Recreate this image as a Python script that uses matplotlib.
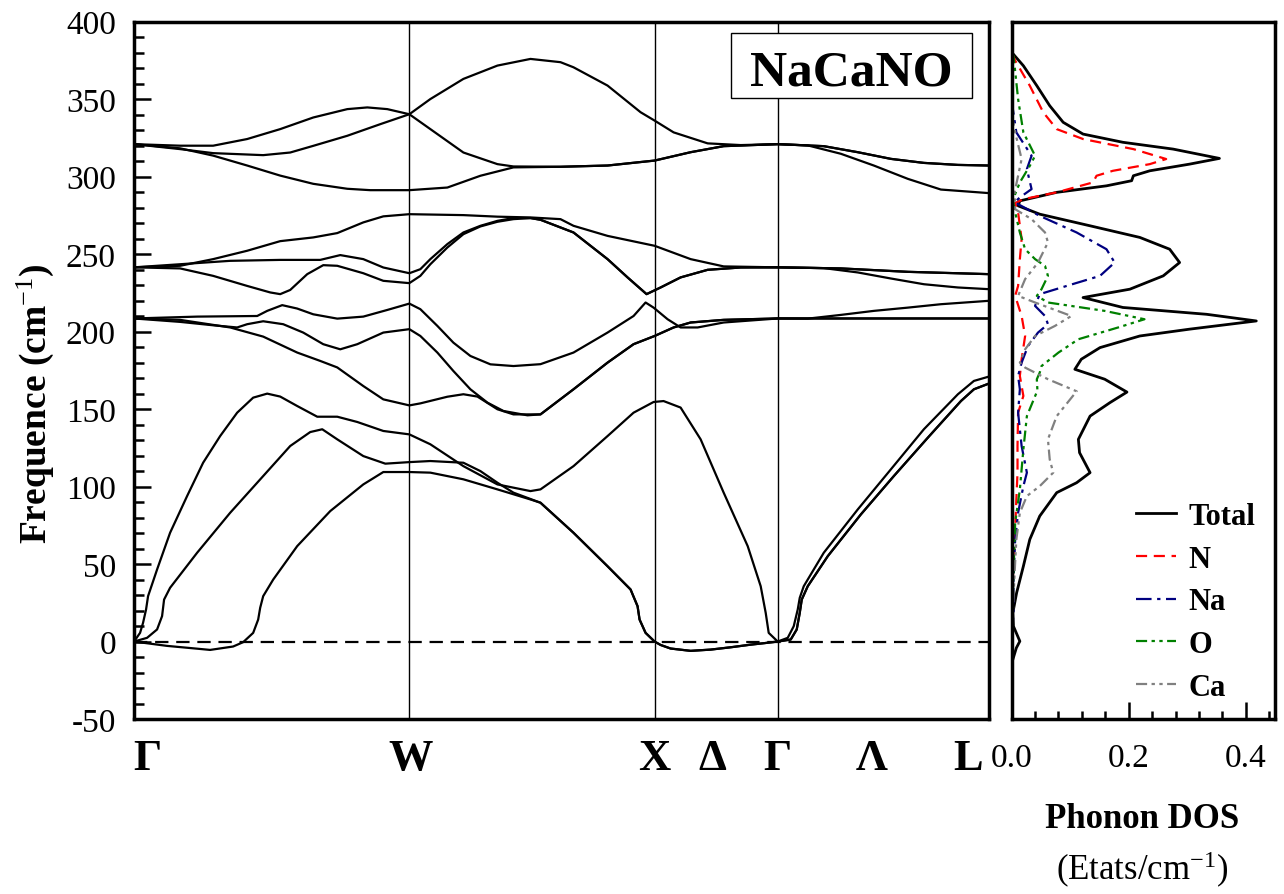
import matplotlib
matplotlib.use('Agg')
import matplotlib.pyplot as plt
from matplotlib.ticker import MultipleLocator, FormatStrFormatter
from matplotlib.patches import Rectangle

plt.rcParams['font.family'] = ['Liberation Serif', 'DejaVu Serif']
plt.rcParams['mathtext.fontset'] = 'custom'
plt.rcParams['mathtext.rm'] = 'Liberation Serif'
plt.rcParams['mathtext.it'] = 'Liberation Serif:italic'
plt.rcParams['mathtext.bf'] = 'Liberation Serif:bold'
plt.rcParams['axes.unicode_minus'] = False

# ---------------- high-symmetry path ----------------
kpoint_pos = [0.0, 2.75, 5.20, 6.43, 8.54]
klabels = ['Γ', 'W', 'X', 'Δ', 'Γ', 'Λ', 'L']
klabel_pos = [0.13, 2.76, 5.195, 5.78, 6.43, 7.37, 8.335]

# ---------------- phonon branches (cm-1) ----------------
A1_k = [0.00, 0.06, 0.09, 0.12, 0.14, 0.23, 0.36, 0.53, 0.69, 0.86, 1.03, 1.19, 1.33, 1.46, 1.63, 1.83, 2.03, 2.23, 2.49, 2.75,
        2.96, 3.29, 3.63, 3.96, 4.06, 4.39, 4.73, 4.99, 5.19, 5.29, 5.46, 5.66, 5.89, 6.13, 6.26, 6.31, 6.34, 6.43,
        6.53, 6.59, 6.63, 6.65, 6.69, 6.89, 7.23, 7.56, 7.89, 8.23, 8.39, 8.54]
A1_f = [0, 5.6, 12.1, 20.7, 29.3, 46.5, 70.2, 93.9, 115.4, 132.6, 147.7, 157.4, 160.0, 158.1, 152.0, 145.1, 145.1, 141.7, 135.9, 133.7,
        127.3, 113.2, 101.4, 97.1, 98.2, 113.2, 132.6, 147.7, 154.6, 155.2, 151.0, 130.5, 96.1, 61.6, 35.7, 18.5, 5.6, 0,
        2.4, 9.9, 20.7, 28.2, 35.7, 57.3, 85.3, 111.1, 137.0, 159.6, 168.2, 171.0]

A2_k = [0.00, 0.13, 0.23, 0.28, 0.30, 0.36, 0.63, 0.96, 1.29, 1.56, 1.76, 1.88, 2.03, 2.29, 2.51, 2.75,
        2.96, 3.29, 3.46, 3.63, 3.79, 4.06, 4.39, 4.73, 4.96, 5.03, 5.05, 5.11, 5.20,
        5.26, 5.36, 5.56, 5.76, 5.96, 6.16, 6.30, 6.43,
        6.56, 6.62, 6.65, 6.67, 6.73, 6.93, 7.26, 7.59, 7.93, 8.26, 8.39, 8.54]
A2_f = [0, 2.4, 7.8, 16.4, 27.1, 34.7, 57.3, 83.1, 106.8, 126.2, 135.2, 137.0, 130.5, 119.7, 114.8, 115.8,
        116.5, 115.4, 110.0, 102.5, 96.1, 89.6, 70.2, 48.6, 33.6, 22.8, 14.2, 5.6, 0,
        -2.2, -4.5, -6.0, -5.2, -3.7, -2.0, -1.0, 0,
        1.3, 7.8, 18.5, 27.1, 35.7, 55.1, 82.0, 106.8, 131.6, 155.2, 162.8, 166.5]

A3_k = [0.00, 0.33, 0.63, 0.76, 0.99, 1.09, 1.19, 1.24, 1.26, 1.29, 1.39, 1.63, 1.96, 2.29, 2.49, 2.75,
        2.96, 3.29, 3.63, 3.96, 4.06, 4.39, 4.73, 4.96, 5.03, 5.05, 5.11, 5.20,
        5.26, 5.36, 5.56, 5.76, 5.96, 6.16, 6.30, 6.43,
        6.56, 6.62, 6.65, 6.67, 6.73, 6.93, 7.26, 7.59, 7.93, 8.26, 8.39, 8.54]
A3_f = [0, -2.8, -4.6, -5.4, -3.2, -0.4, 5.6, 14.2, 21.8, 29.3, 40.0, 61.6, 84.2, 101.4, 109.4, 109.4,
        109.0, 104.7, 98.2, 91.7, 89.6, 70.2, 48.6, 33.6, 22.8, 14.2, 5.6, 0,
        -2.2, -4.5, -6.0, -5.2, -3.7, -2.0, -1.0, 0,
        1.3, 7.8, 18.5, 27.1, 35.7, 55.1, 82.0, 106.8, 131.6, 155.2, 162.8, 166.5]

L1_k = [0.00, 0.63, 1.23, 1.33, 1.48, 1.63, 1.79, 2.03, 2.29, 2.53, 2.75,
        2.86, 3.03, 3.19, 3.36, 3.56, 3.79, 4.06, 4.39, 4.73, 4.99, 5.11, 5.19,
        5.33, 5.46, 5.63, 5.89, 6.43,
        6.73, 7.06, 7.39, 7.73, 8.06, 8.54]
L1_f = [208.5, 209.7, 210.1, 213.4, 217.1, 214.9, 211.2, 208.4, 209.7, 214.0, 218.1,
        214.5, 203.7, 192.9, 184.3, 178.9, 177.8, 179.0, 186.5, 199.4, 210.1, 218.8, 215.5,
        208.0, 202.7, 202.7, 205.9, 208.5,
        208.4, 210.8, 213.4, 215.5, 217.7, 219.9]

L2_k = [0.00, 0.46, 0.79, 1.03, 1.13, 1.29, 1.49, 1.69, 1.89, 2.06, 2.23, 2.49, 2.75,
        2.86, 3.03, 3.19, 3.36, 3.53, 3.69, 3.93, 4.06, 4.39, 4.73, 4.99, 5.20,
        5.39, 5.56, 5.89, 6.43,
        7.50, 8.54]
L2_f = [208.5, 206.3, 204.1, 202.7, 204.8, 206.7, 204.8, 199.4, 191.9, 188.6, 191.9, 199.4, 201.6,
        197.2, 186.5, 174.6, 162.8, 154.2, 148.8, 146.0, 146.6, 162.8, 180.0, 191.9, 197.2,
        202.7, 205.9, 207.6, 208.5,
        208.5, 208.5]

L3_k = [0.00, 0.46, 0.96, 1.29, 1.63, 1.86, 2.03, 2.29, 2.49, 2.75,
        2.86, 3.13, 3.29, 3.43, 3.63, 3.79, 4.06, 4.39, 4.73, 4.99, 5.20,
        5.39, 5.56, 5.89, 6.43,
        7.50, 8.54]
L3_f = [208.5, 207.6, 202.7, 196.8, 186.5, 181.1, 176.9, 164.9, 156.3, 152.4,
        153.7, 158.0, 159.6, 158.1, 149.9, 146.6, 146.6, 162.8, 180.0, 191.9, 197.2,
        202.7, 205.9, 207.6, 208.5,
        208.5, 208.5]

M1_k = [0.00, 0.46, 0.79, 1.13, 1.46, 1.79, 2.03, 2.29, 2.49, 2.75,
        3.29, 3.63, 3.96, 4.26, 4.39, 4.73, 5.20, 5.56, 5.89, 6.43,
        7.06, 7.73, 8.54]
M1_f = [241.5, 242.5, 246.8, 252.2, 258.4, 260.8, 263.6, 270.5, 274.4, 275.8,
        275.2, 274.2, 273.7, 272.6, 268.3, 261.8, 255.4, 246.8, 242.1, 241.5,
        240.8, 238.6, 237.1]

M2_k = [0.00, 0.46, 0.96, 1.46, 1.86, 2.06, 2.29, 2.49, 2.75,
        2.86, 2.96, 3.13, 3.29, 3.46, 3.63, 3.79, 3.96, 4.06, 4.39, 4.73, 4.93, 5.12, 5.26, 5.46, 5.73, 6.06, 6.43,
        6.89, 7.23, 7.56, 7.89, 8.23, 8.54]
M2_f = [241.5, 243.5, 245.7, 246.3, 246.3, 249.4, 246.8, 241.4, 237.7,
        240.3, 246.8, 256.5, 264.0, 268.3, 271.5, 273.3, 273.3, 272.2, 264.0, 246.8, 235.0, 224.2, 228.5, 235.0, 239.9, 241.4, 241.5,
        241.0, 238.2, 234.3, 230.6, 228.5, 227.4]

M3_k = [0.00, 0.46, 0.79, 1.13, 1.36, 1.46, 1.56, 1.73, 1.89, 2.03, 2.29, 2.49, 2.75,
        2.86, 2.96, 3.13, 3.29, 3.46, 3.63, 3.79, 3.96, 4.06, 4.39, 4.73, 4.93, 5.12, 5.26, 5.46, 5.73, 6.06, 6.43,
        7.06, 7.73, 8.54]
M3_f = [241.5, 240.8, 236.0, 229.5, 225.3, 224.2, 226.9, 237.1, 242.9, 242.5, 237.7, 232.8, 231.3,
        236.0, 243.5, 254.3, 262.9, 267.9, 270.9, 272.6, 273.3, 272.2, 264.0, 246.8, 235.0, 224.2, 228.5, 235.0, 239.9, 241.4, 241.5,
        240.8, 238.6, 237.1]

T1_k = [0.00, 0.46, 0.79, 1.13, 1.46, 1.79, 2.13, 2.33, 2.53, 2.75,
        2.96, 3.29, 3.63, 3.96, 4.26, 4.39, 4.73, 5.06, 5.20, 5.39, 5.73, 6.06, 6.43,
        6.89, 7.23, 7.56, 7.89, 8.23, 8.54]
T1_f = [321.0, 320.0, 320.0, 324.3, 330.7, 338.2, 343.6, 344.7, 343.6, 340.3,
        350.1, 363.1, 371.7, 376.0, 373.9, 370.6, 358.8, 341.6, 336.2, 328.6, 321.5, 320.4, 321.0,
        319.7, 315.8, 311.5, 308.9, 307.6, 307.2]

T2_k = [0.00, 0.46, 0.79, 1.29, 1.56, 1.79, 2.13, 2.46, 2.75,
        2.96, 3.29, 3.63, 3.79, 4.26, 4.73, 5.20, 5.56, 5.89, 6.43,
        6.89, 7.23, 7.56, 7.89, 8.23, 8.54]
T2_f = [321.0, 317.8, 315.2, 313.9, 315.6, 319.9, 326.4, 333.9, 340.3,
        330.7, 315.6, 308.1, 306.6, 306.4, 307.2, 310.4, 315.8, 319.7, 321.0,
        319.7, 315.8, 311.5, 308.9, 307.6, 307.2]

T3_k = [0.00, 0.46, 0.79, 1.13, 1.46, 1.79, 2.13, 2.36, 2.75,
        3.13, 3.46, 3.79, 4.26, 4.73, 5.20, 5.56, 5.89, 6.43,
        6.73, 7.06, 7.39, 7.73, 8.06, 8.54]
T3_f = [321.0, 318.3, 313.6, 307.2, 300.7, 295.4, 292.2, 291.3, 291.3,
        293.0, 300.6, 306.0, 306.4, 307.2, 310.4, 315.8, 319.7, 321.0,
        320.2, 314.8, 307.2, 298.6, 291.7, 289.4]

# ---------------- phonon DOS (states/cm-1) ----------------
dos_freq_total = [380.3, 371.6, 358.7, 345.8, 335.1, 327.5, 322.2, 317.8, 311.8, 308.1, 303.8, 300.6, 297.4, 294.1, 289.9,
                  284.4, 281.2, 275.8, 268.3, 260.8, 253.2, 244.6, 236.0, 227.4, 222.0, 215.6, 211.2, 206.9, 201.6, 197.2,
                  189.7, 182.2, 175.7, 169.3, 161.0, 154.2, 145.5, 130.5, 121.9, 109.0, 102.5, 96.1, 81.0, 65.9, 48.6,
                  31.5, 18.5, 9.9, 0.2, -4.1, -11.6, -14.0]
dos_total = [0.000, 0.020, 0.043, 0.065, 0.088, 0.122, 0.190, 0.276, 0.355, 0.304, 0.236, 0.208, 0.205, 0.162, 0.077,
             0.014, 0.011, 0.048, 0.134, 0.219, 0.270, 0.287, 0.259, 0.202, 0.122, 0.190, 0.333, 0.418, 0.304, 0.219,
             0.151, 0.119, 0.108, 0.159, 0.197, 0.168, 0.134, 0.114, 0.116, 0.134, 0.111, 0.077, 0.048, 0.031, 0.020,
             0.0085, 0.002, 0.003, 0.014, 0.008, 0.002, 0.000]

dos_freq_N = [380.0, 374.9, 358.7, 341.5, 330.7, 324.3, 317.8, 311.4, 308.1, 303.8, 300.6, 296.3, 289.9, 285.5, 283.0,
              276.9, 259.7, 246.8, 229.5, 223.1, 210.1, 197.2, 182.2, 171.4, 164.9, 158.5, 147.7, 126.2, 109.0, 91.7,
              72.4, 50.8, 28.0, 0.0]
dos_N = [0.000, 0.006, 0.031, 0.054, 0.077, 0.122, 0.208, 0.264, 0.236, 0.173, 0.145, 0.139, 0.077, 0.020, 0.006,
         0.011, 0.017, 0.014, 0.011, 0.006, 0.017, 0.023, 0.017, 0.014, 0.017, 0.020, 0.011, 0.010, 0.010, 0.008,
         0.006, 0.003, 0.001, 0.000]

dos_freq_Na = [350.0, 343.7, 328.6, 313.5, 304.9, 292.0, 286.6, 283.5, 274.7, 264.0, 253.2, 244.6, 236.0, 229.5, 224.2,
               216.6, 210.1, 204.8, 199.4, 190.8, 180.0, 171.4, 162.8, 147.7, 126.2, 109.0, 100.3, 83.1, 65.9, 40.0,
               18.5, 0.0]
dos_Na = [0.000, 0.002, 0.008, 0.034, 0.026, 0.034, 0.014, 0.005, 0.048, 0.111, 0.162, 0.176, 0.151, 0.094, 0.048,
          0.040, 0.057, 0.062, 0.045, 0.028, 0.017, 0.011, 0.014, 0.011, 0.017, 0.026, 0.020, 0.011, 0.006, 0.003,
          0.003, 0.000]

dos_freq_O = [380.0, 378.0, 371.6, 350.1, 328.6, 313.5, 307.0, 296.3, 285.0, 276.9, 264.0, 253.2, 246.8, 242.4, 236.0,
              227.4, 223.1, 218.8, 213.4, 208.0, 202.7, 195.1, 186.5, 177.8, 173.6, 169.3, 162.0, 145.5, 124.0, 98.2,
              76.7, 43.0, 0.0]
dos_O = [0.000, 0.003, 0.005, 0.011, 0.020, 0.040, 0.031, 0.014, 0.002, 0.006, 0.014, 0.023, 0.040, 0.057, 0.062,
         0.051, 0.043, 0.062, 0.159, 0.227, 0.182, 0.114, 0.080, 0.051, 0.048, 0.043, 0.044, 0.026, 0.020, 0.014,
         0.006, 0.003, 0.000]

dos_freq_Ca = [340.0, 328.6, 311.4, 300.6, 290.0, 279.0, 272.6, 264.0, 257.6, 244.6, 233.9, 223.1, 218.8, 210.1, 203.7,
               197.2, 188.6, 180.0, 176.8, 169.3, 161.5, 145.5, 130.5, 117.6, 109.0, 100.3, 93.9, 83.1, 65.9, 44.0, 0.0]
dos_Ca = [0.000, 0.006, 0.017, 0.011, 0.005, 0.006, 0.034, 0.057, 0.062, 0.045, 0.023, 0.011, 0.040, 0.102, 0.074,
          0.040, 0.023, 0.014, 0.023, 0.062, 0.111, 0.077, 0.062, 0.065, 0.071, 0.048, 0.026, 0.014, 0.008, 0.005, 0.000]

dos_names = ['Total', 'N', 'Na', 'O', 'Ca']

# ---------------- figure ----------------
fig = plt.figure(figsize=(12.84, 8.95), dpi=100)
ax = fig.add_axes([0.1044, 0.1955, 0.6658, 0.7791])
ax2 = fig.add_axes([0.7879, 0.1955, 0.2051, 0.7791])

bands = [(A1_k, A1_f), (A2_k, A2_f), (A3_k, A3_f),
         (L1_k, L1_f), (L2_k, L2_f), (L3_k, L3_f),
         (M1_k, M1_f), (M2_k, M2_f), (M3_k, M3_f),
         (T1_k, T1_f), (T2_k, T2_f), (T3_k, T3_f)]
for kk, ff in bands:
    ax.plot(kk, ff, color='black', lw=1.6, solid_joinstyle='round', zorder=3)

for kp in kpoint_pos[1:-1]:
    ax.axvline(kp, color='black', lw=1.0, zorder=2)
ax.axhline(0, color='black', lw=1.6, linestyle=(0, (6, 3.5)), zorder=2)

ax.set_xlim(kpoint_pos[0], kpoint_pos[-1])
ax.set_ylim(-50, 400)
ax.yaxis.set_major_locator(MultipleLocator(50))
ax.yaxis.set_minor_locator(MultipleLocator(10))
ax.set_xticks([])
ax.tick_params(axis='y', which='both', direction='in', right=False, labelsize=24, pad=13)
ax.tick_params(axis='y', which='major', length=12, width=1.8)
ax.tick_params(axis='y', which='minor', length=7, width=1.8)
for s in ax.spines.values():
    s.set_linewidth(2.5)

for lab, pos in zip(klabels, klabel_pos):
    ax.text(pos, -0.072, lab, transform=ax.get_xaxis_transform(), ha='center', va='baseline',
            fontsize=32, fontweight='bold')

# title box
ax.add_patch(Rectangle((0.6979, 0.8901), 0.2819, 0.0937, transform=ax.transAxes,
                       facecolor='white', edgecolor='black', lw=1.0, zorder=5))
ax.text(0.8386, 0.9107, 'NaCaNO', transform=ax.transAxes, ha='center', va='baseline',
        fontsize=37, fontweight='bold', zorder=6)

fig.text(35 / 1284, 1 - 403.5 / 895, 'Frequence (cm$^{-1}$)', rotation=90, ha='center', va='center',
         fontsize=27, fontweight='bold')

# DOS panel
ax2.plot(dos_total, dos_freq_total, color='black', lw=2.0, label=dos_names[0])
ax2.plot(dos_N, dos_freq_N, color='#ff0000', lw=1.6, linestyle=(0, (5, 3)), label=dos_names[1])
ax2.plot(dos_Na, dos_freq_Na, color='#000080', lw=1.6, linestyle=(0, (7, 2.5, 1.5, 2.5)), label=dos_names[2])
ax2.plot(dos_O, dos_freq_O, color='#008000', lw=1.6, linestyle=(0, (5, 2, 1.5, 2, 1.5, 2)), label=dos_names[3])
ax2.plot(dos_Ca, dos_freq_Ca, color='#808080', lw=1.6, linestyle=(0, (5, 2, 1.5, 2, 1.5, 2)), label=dos_names[4])
ax2.set_ylim(-50, 400)
ax2.set_xlim(0, 0.45)
ax2.xaxis.set_major_locator(MultipleLocator(0.2))
ax2.xaxis.set_minor_locator(MultipleLocator(0.04))
ax2.xaxis.set_major_formatter(FormatStrFormatter('%.1f'))
ax2.tick_params(axis='x', which='both', direction='in', top=False, labelsize=24, pad=17)
ax2.tick_params(axis='x', which='major', length=12, width=1.8)
ax2.tick_params(axis='x', which='minor', length=6, width=1.8)
ax2.tick_params(axis='y', which='both', left=False, right=False, labelleft=False)
for s in ax2.spines.values():
    s.set_linewidth(2.5)

leg = ax2.legend(loc='lower right', bbox_to_anchor=(0.97, 0.007), frameon=False,
                 prop={'weight': 'bold', 'size': 22}, handlelength=1.3, handletextpad=0.4,
                 labelspacing=0.45, borderaxespad=0.0)

fig.text(1142.5 / 1284, 1 - 828 / 895, 'Phonon DOS', ha='center', va='baseline', fontsize=25, fontweight='bold')
fig.text(1142.5 / 1284, 1 - 880 / 895, '(Etats/cm$^{-1}$)', ha='center', va='baseline', fontsize=25)

fig.savefig('out.png', dpi=100)
